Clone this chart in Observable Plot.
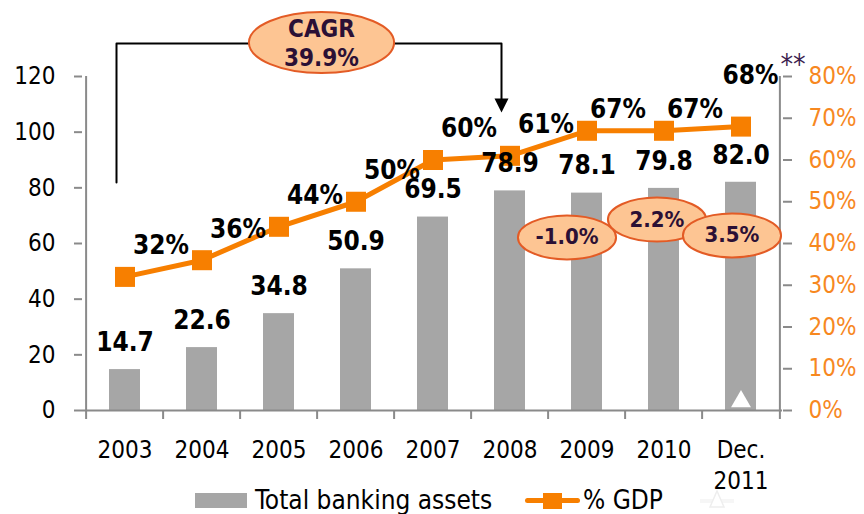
<!DOCTYPE html>
<html>
<head>
<meta charset="utf-8">
<script src="https://cdn.jsdelivr.net/npm/d3@7"></script>
<script src="https://cdn.jsdelivr.net/npm/@observablehq/plot@0.6"></script>
<style>
  html, body { margin: 0; padding: 0; background: #fff; overflow: hidden; }
  #wrap { position: relative; width: 864px; height: 514px; }
  #legend { position: absolute; top: 488px; left: 0; width: 864px; height: 26px;
    font-family: "DejaVu Sans Condensed", "DejaVu Sans", sans-serif; font-size: 26px; line-height: 26px; color: #000; }
  #legend > * { position: absolute; }
</style>
</head>
<body>
<div id="wrap">
  <div id="chart"></div>
  <div id="legend"></div>
</div>
<script>
// ---------- data ----------
const years = ["2003", "2004", "2005", "2006", "2007", "2008", "2009", "2010", "Dec.\n2011"];
const assets = [14.7, 22.6, 34.8, 50.9, 69.5, 78.9, 78.1, 79.8, 82.0];
const gdpPct = [32, 36, 44, 50, 60, 61, 67, 67, 68];
const thirdSeries = [null, null, null, null, null, null, null, null, 3.2];
const assetTicks = [0, 20, 40, 60, 80, 100, 120];
const pctTicks = [0, 10, 20, 30, 40, 50, 60, 70, 80];
const growthYears = ["2009", "2010", "Dec.\n2011"];
const growthLabels = ["-1.0%", "2.2%", "3.5%"];
const cagrText = "CAGR\n39.9%";
const seriesNames = ["Total banking assets", "% GDP"];

// ---------- setup ----------
const FONT = '"DejaVu Sans Condensed", "DejaVu Sans", sans-serif';
const ORANGE = "#f77f00";
const AXIS_ORANGE = "#f7881f";
const GRAY_BAR = "#a6a6a6";
const AXIS_GRAY = "#8a8a8a";
const PURPLE = "#2b1035";
const ELL_FILL = "#fdc593";
const ELL_STROKE = "#e35b25";
const pctFactor = 120 / 80;  // right axis 0–80% maps onto left axis 0–120

const W = 864, H = 488, mL = 82, mR = 82, mT = 76, mB = 78;
const step = (W - mL - mR) / years.length;
const tickLen = 9 * 120 / (H - mT - mB); // 9px expressed in y units

const rows = years.map((y, i) => ({year: y, assets: assets[i], gdp: gdpPct[i], gdpY: gdpPct[i] * pctFactor, third: thirdSeries[i]}));
const early = rows.slice(0, 6), late = rows.slice(6, 8), last = rows.slice(-1);

function ellipseSymbol(aspect) {
  return {
    draw(ctx, size) {
      const ry = Math.sqrt(size / Math.PI), rx = ry * aspect, k = 0.5523;
      ctx.moveTo(rx, 0);
      ctx.bezierCurveTo(rx, ry * k, rx * k, ry, 0, ry);
      ctx.bezierCurveTo(-rx * k, ry, -rx, ry * k, -rx, 0);
      ctx.bezierCurveTo(-rx, -ry * k, -rx * k, -ry, 0, -ry);
      ctx.bezierCurveTo(rx * k, -ry, rx, -ry * k, rx, 0);
      ctx.closePath();
    }
  };
}
const arrowDown = {
  draw(ctx, size) {
    const r = Math.sqrt(size / Math.PI);
    ctx.moveTo(-r, -2 * r);
    ctx.lineTo(r, -2 * r);
    ctx.lineTo(0, 0);
    ctx.closePath();
  }
};

// growth ellipses (annotation anchors)
const growthPos = [{dx: -20, y: 62.2}, {dx: -7, y: 68.6}, {dx: -9, y: 62.9}];
const growth = growthYears.map((y, i) => ({year: y, label: growthLabels[i], ...growthPos[i]}));
const growthMarks = growth.flatMap(g => [
  Plot.dot([g], {x: "year", y: "y", dx: g.dx, r: 22, symbol: ellipseSymbol(2.23), fill: ELL_FILL, stroke: ELL_STROKE, strokeWidth: 2}),
  Plot.text([g], {x: "year", y: "y", dx: g.dx, text: "label", fontSize: 22, fontWeight: "bold", fill: PURPLE})
]);

// CAGR bracket
const bracket = [
  {x: years[0], y: 81.9}, {x: years[0], y: 131.9}, {x: years[5], y: 131.9}, {x: years[5], y: 110}
];
const cagr = [{x: years[2], y: 132.2, text: cagrText}];

const pctLabel = d => d.gdp + "%";
const labelStyle = {fontSize: 26, fontWeight: "bold", fill: "#000"};

const plot = Plot.plot({
  width: W, height: H,
  marginLeft: mL, marginRight: mR, marginTop: mT, marginBottom: mB,
  style: {fontFamily: FONT, background: "white", overflow: "visible"},
  x: {domain: years, paddingInner: 0.6, paddingOuter: 0.3, label: null},
  y: {domain: [0, 120], label: null},
  marks: [
    Plot.barY(rows, {x: "year", y: "assets", fill: GRAY_BAR}),
    // axis lines and category boundary ticks
    Plot.ruleY([0], {stroke: AXIS_GRAY, strokeWidth: 2}),
    Plot.ruleX(years, {x: d => d, y1: 0, y2: -tickLen, dx: -step / 2, stroke: AXIS_GRAY, strokeWidth: 2}),
    Plot.ruleX([years[0]], {x: d => d, y1: 0, y2: 120, dx: -step / 2, stroke: AXIS_GRAY, strokeWidth: 2}),
    Plot.ruleX([years[years.length - 1]], {x: d => d, y1: -tickLen, y2: 120, dx: step / 2, stroke: AXIS_GRAY, strokeWidth: 2}),
    Plot.axisY({anchor: "left", ticks: assetTicks, tickSize: 8, tickPadding: 19, fontSize: 24, stroke: AXIS_GRAY, strokeWidth: 2, fill: "#000", label: null}),
    Plot.axisY({anchor: "right", ticks: pctTicks.map(p => p * pctFactor), tickFormat: d => Math.round(d / pctFactor) + "%",
      tickSize: 9, tickPadding: 17, fontSize: 24, stroke: AXIS_GRAY, strokeWidth: 2, fill: AXIS_ORANGE, label: null}),
    Plot.axisX({tickSize: 0, tickPadding: 25, fontSize: 24, lineHeight: 1.3, fill: "#000", label: null}),
    // CAGR bracket
    Plot.line(bracket, {x: "x", y: "y", dx: -8.5, stroke: "#000", strokeWidth: 2}),
    Plot.dot([bracket[3]], {x: "x", y: 107.1, dx: -8.5, r: 7, symbol: arrowDown, fill: "#000"}),
    // % GDP line
    Plot.line(rows, {x: "year", y: "gdpY", stroke: ORANGE, strokeWidth: 5}),
    Plot.dot(rows, {x: "year", y: "gdpY", symbol: "square", r: 11.3, fill: ORANGE}),
    Plot.dot(rows.filter(d => d.third != null), {x: "year", y: "third", symbol: "triangle", r: 7.4, fill: "white"}),
    // labels
    Plot.text(rows, {x: "year", y: "assets", text: d => d.assets.toFixed(1), dy: -27, ...labelStyle}),
    Plot.text(early, {x: "year", y: "gdpY", text: pctLabel, dx: 36, dy: -31, ...labelStyle}),
    Plot.text(late, {x: "year", y: "gdpY", text: pctLabel, dx: 31, dy: -21.5, ...labelStyle}),
    Plot.text(last, {x: "year", y: "gdpY", text: pctLabel, dx: 9.5, dy: -51, ...labelStyle}),
    Plot.text(last, {x: "year", y: "gdpY", text: () => "**", dx: 52, dy: -62, fontSize: 28, fill: "#3d1f4f"}),
    ...growthMarks,
    Plot.dot(cagr, {x: "x", y: "y", dx: 42.5, r: 30.5, symbol: ellipseSymbol(2.38), fill: ELL_FILL, stroke: ELL_STROKE, strokeWidth: 2}),
    Plot.text(cagr, {x: "x", y: "y", dx: 42.5, text: "text", fontSize: 24, lineHeight: 1.17, fontWeight: "bold", fill: PURPLE})
  ]
});
document.getElementById("chart").appendChild(plot);

// legend
const lg = document.getElementById("legend");
lg.innerHTML = `
  <div style="left:195px;top:5px;width:52px;height:15px;background:${GRAY_BAR}"></div>
  <span style="left:255px;top:-1px">${seriesNames[0]}</span>
  <div style="left:525px;top:10px;width:55px;height:5px;border-radius:3px;background:${ORANGE}"></div>
  <div style="left:543px;top:5px;width:19px;height:16px;background:${ORANGE}"></div>
  <span style="left:583px;top:-1px">${seriesNames[1]}</span>
  <div style="left:700px;top:11px;width:34px;height:4px;background:#f6f6f6"></div>
  <svg style="left:709px;top:2px" width="16" height="18"><path d="M8,1 L15,17 L1,17 Z" fill="#fff" stroke="#eeeeee" stroke-width="1.5"/></svg>
`;
</script>
</body>
</html>
